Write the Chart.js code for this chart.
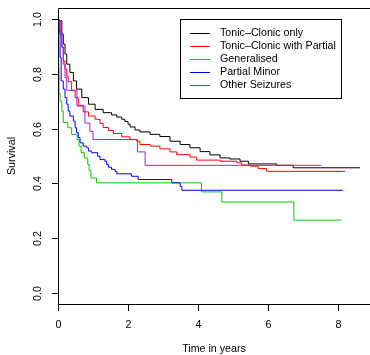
<!DOCTYPE html>
<html>
<head>
<meta charset="utf-8">
<script src="https://cdn.jsdelivr.net/npm/chart.js@4/dist/chart.umd.min.js"></script>
<style>
  body { margin: 0; background: #fff; }
</style>
</head>
<body>
<canvas id="chart" width="370" height="355"></canvas>
<script>
const seriesNames = ['Tonic–Clonic only', 'Tonic–Clonic with Partial', 'Generalised', 'Partial Minor', 'Other Seizures'];
const seriesColors = ['#000000', '#ff0000', '#00cd00', '#0000ff', '#a020f0'];

// Kaplan-Meier estimates (time in years, survival)
const tcOnlyTime = [0, 0.03, 0.11, 0.15, 0.2, 0.25, 0.34, 0.44, 0.53, 0.68, 0.87, 1.06, 1.29, 1.53, 1.68, 1.82, 1.91, 2.0, 2.06, 2.2, 2.34, 2.63, 2.91, 3.2, 3.49, 3.77, 4.06, 4.34, 4.63, 4.91, 5.2, 5.44, 6.25, 6.72, 8.63];
const tcOnlySurv = [1, 0.994, 0.945, 0.908, 0.872, 0.835, 0.805, 0.774, 0.744, 0.713, 0.689, 0.670, 0.658, 0.650, 0.642, 0.634, 0.626, 0.616, 0.606, 0.595, 0.588, 0.579, 0.571, 0.554, 0.542, 0.530, 0.516, 0.504, 0.493, 0.489, 0.481, 0.471, 0.466, 0.457, 0.457];

const tcPartialTime = [0, 0.03, 0.06, 0.11, 0.15, 0.2, 0.25, 0.29, 0.39, 0.49, 0.58, 0.72, 0.87, 1.06, 1.2, 1.29, 1.44, 1.58, 1.82, 2.06, 2.25, 2.34, 2.63, 2.91, 3.2, 3.39, 3.77, 3.96, 4.63, 5.11, 5.25, 5.49, 5.72, 5.96, 8.2];
const tcPartialSurv = [1, 0.994, 0.945, 0.899, 0.847, 0.817, 0.791, 0.771, 0.738, 0.713, 0.685, 0.661, 0.646, 0.634, 0.619, 0.604, 0.593, 0.582, 0.570, 0.560, 0.554, 0.542, 0.536, 0.526, 0.515, 0.505, 0.496, 0.485, 0.481, 0.475, 0.467, 0.463, 0.454, 0.444, 0.444];

const generalisedTime = [0, 0.01, 0.02, 0.03, 0.06, 0.11, 0.15, 0.28, 0.39, 0.55, 0.6, 0.66, 0.75, 0.85, 0.89, 0.94, 1.1, 4.1, 4.68, 6.74, 8.1];
const generalisedSurv = [1, 0.9, 0.82, 0.73, 0.70, 0.664, 0.622, 0.603, 0.579, 0.560, 0.536, 0.512, 0.493, 0.469, 0.447, 0.420, 0.402, 0.369, 0.332, 0.266, 0.266];

const partialMinorTime = [0, 0.03, 0.06, 0.09, 0.15, 0.2, 0.25, 0.29, 0.34, 0.44, 0.49, 0.53, 0.58, 0.63, 0.72, 0.82, 0.87, 0.96, 1.13, 1.2, 1.34, 1.39, 1.44, 1.53, 1.63, 1.68, 2.1, 2.29, 3.25, 3.49, 3.54, 8.14];
const partialMinorSurv = [1, 0.957, 0.86, 0.774, 0.744, 0.713, 0.689, 0.664, 0.646, 0.627, 0.603, 0.585, 0.567, 0.548, 0.536, 0.530, 0.518, 0.512, 0.499, 0.487, 0.481, 0.469, 0.459, 0.451, 0.444, 0.435, 0.426, 0.414, 0.402, 0.389, 0.375, 0.375];

const otherTime = [0, 0.03, 0.06, 0.11, 0.15, 0.2, 0.25, 0.54, 0.77, 0.91, 1.0, 2.27, 2.49, 7.53];
const otherSurv = [1, 0.994, 0.945, 0.896, 0.835, 0.786, 0.74, 0.682, 0.62, 0.59, 0.56, 0.515, 0.466, 0.466];

const xTicks = [0, 2, 4, 6, 8];
const yTicks = [0, 0.2, 0.4, 0.6, 0.8, 1.0];
const yTickLabels = ['0.0', '0.2', '0.4', '0.6', '0.8', '1.0'];

const allTimes = [tcOnlyTime, tcPartialTime, generalisedTime, partialMinorTime, otherTime];
const allSurv = [tcOnlySurv, tcPartialSurv, generalisedSurv, partialMinorSurv, otherSurv];

const FONT = '10.7px "Liberation Sans", Arial, Helvetica, sans-serif';

const datasets = seriesNames.map((name, i) => ({
  label: name,
  data: allTimes[i].map((t, j) => ({ x: t, y: allSurv[i][j] })),
  borderColor: seriesColors[i],
  borderWidth: 1,
  stepped: true,
  pointRadius: 0,
  fill: false,
  order: seriesNames.length - i
}));

// R style box, ticks, labels and legend
const rAxes = {
  id: 'rAxes',
  afterDraw(chart) {
    const ctx = chart.ctx;
    const xs = chart.scales.x;
    const ys = chart.scales.y;
    const a = chart.chartArea;
    ctx.save();
    ctx.strokeStyle = '#000';
    ctx.fillStyle = '#000';
    ctx.lineWidth = 1;

    ctx.beginPath();
    ctx.moveTo(a.right + 2, a.top + 0.5);
    ctx.lineTo(a.left + 0.5, a.top + 0.5);
    ctx.lineTo(a.left + 0.5, a.bottom + 0.5);
    ctx.lineTo(a.right + 2, a.bottom + 0.5);
    ctx.stroke();

    ctx.font = FONT;
    ctx.textAlign = 'center';
    ctx.textBaseline = 'middle';

    xTicks.forEach(v => {
      const px = Math.round(xs.getPixelForValue(v)) + 0.5;
      ctx.beginPath();
      ctx.moveTo(px, a.bottom + 0.5);
      ctx.lineTo(px, a.bottom + 7);
      ctx.stroke();
      ctx.fillText(String(v), px, a.bottom + 21);
    });

    yTicks.forEach((v, i) => {
      const py = Math.round(ys.getPixelForValue(v)) + 0.5;
      ctx.beginPath();
      ctx.moveTo(a.left + 0.5, py);
      ctx.lineTo(a.left - 6, py);
      ctx.stroke();
      ctx.save();
      ctx.translate(a.left - 20, py);
      ctx.rotate(-Math.PI / 2);
      ctx.fillText(yTickLabels[i], 0, 0);
      ctx.restore();
    });

    ctx.fillText('Time in years', (a.left + a.right) / 2, 349);
    ctx.save();
    ctx.translate(12, (a.top + a.bottom) / 2);
    ctx.rotate(-Math.PI / 2);
    ctx.fillText('Survival', 0, 0);
    ctx.restore();

    // legend
    ctx.fillStyle = '#fff';
    ctx.fillRect(180, 19, 161, 79);
    ctx.strokeRect(180.5, 19.5, 161, 79);
    ctx.textAlign = 'left';
    seriesNames.forEach((name, i) => {
      const ly = Math.round(32.5 + i * 13) + 0.5;
      ctx.strokeStyle = seriesColors[i];
      ctx.beginPath();
      ctx.moveTo(190, ly);
      ctx.lineTo(210, ly);
      ctx.stroke();
      ctx.fillStyle = '#000';
      ctx.fillText(name, 220, ly);
    });
    ctx.restore();
  }
};

new Chart(document.getElementById('chart'), {
  type: 'line',
  data: { datasets: datasets },
  options: {
    responsive: false,
    animation: false,
    devicePixelRatio: 1,
    layout: { padding: { left: 58, top: 8, right: 0, bottom: 51 } },
    plugins: { legend: { display: false }, tooltip: { enabled: false } },
    scales: {
      x: { type: 'linear', display: false, min: 0, max: 8.914 },
      y: { type: 'linear', display: false, min: -0.04, max: 1.04 }
    }
  },
  plugins: [rAxes]
});
</script>
</body>
</html>
